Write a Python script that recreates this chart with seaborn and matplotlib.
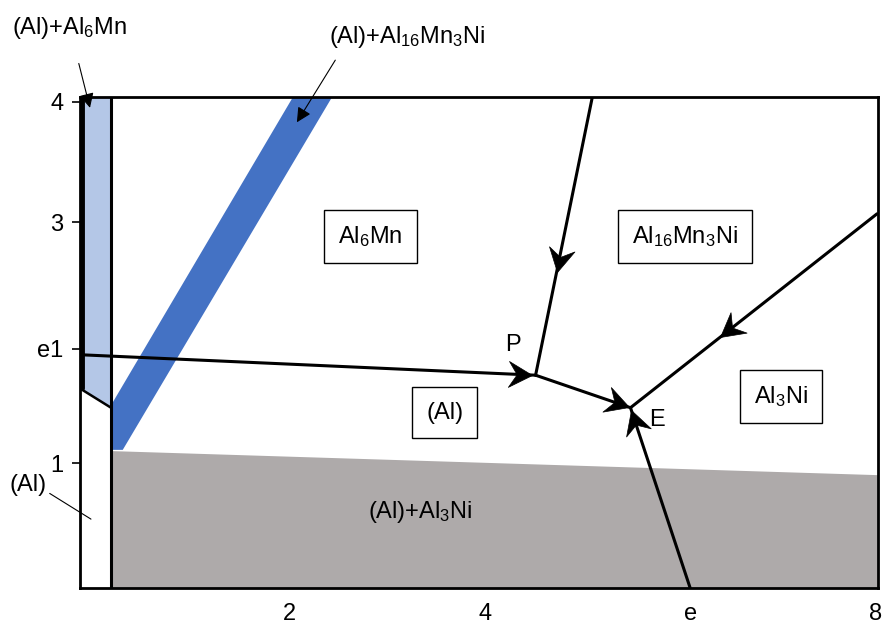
import numpy as np
import matplotlib
matplotlib.use("Agg")
import matplotlib.pyplot as plt
import seaborn as sns
from matplotlib.path import Path
from matplotlib.markers import MarkerStyle
from matplotlib.transforms import Affine2D

# ---------------- data ----------------
x_range = [-0.137, 8.02]
y_range = [-0.037, 4.04]
x_ticks = [2, 4, 6.1, 8]
x_tick_labels = ["2", "4", "e", "8"]
y_ticks = [1, 1.95, 3, 4]
y_tick_labels = ["1", "e1", "3", "4"]

# two-phase / primary fields (polygon outlines)
al6mn_field_x = [-0.137, 0.18, 0.18, -0.137]
al6mn_field_y = [4.04, 4.04, 1.46, 1.62]
al16_band_x = [0.18, 2.04, 2.44, 0.30, 0.18]
al16_band_y = [1.48, 4.04, 4.04, 1.11, 1.11]
al3ni_field_x = [0.18, 8.02, 8.02, 0.18]
al3ni_field_y = [1.10, 0.90, -0.037, -0.037]

# solvus-type boundaries near the Al corner
solvus_x = [0.18, 0.18]
solvus_y = [-0.03, 4.04]
mn_edge_x = [-0.12, -0.12]
mn_edge_y = [1.62, 4.04]
al6mn_lower_x = [-0.137, 0.18]
al6mn_lower_y = [1.62, 1.46]

# invariant points
P = (4.52, 1.73)
E = (5.49, 1.46)

# univariant valleys: (x list, y list, arrow position as fraction along line)
valley_e1_P = ([-0.137, P[0]], [1.90, P[1]], 0.993)
valley_P_E = ([P[0], E[0]], [P[1], E[1]], 0.985)
valley_top_P = ([5.10, P[0]], [4.04, P[1]], 0.63)
valley_right_E = ([8.01, E[0]], [3.07, E[1]], 0.635)
valley_e_E = ([6.1, E[0]], [-0.037, E[1]], 0.985)
valleys = [valley_e1_P, valley_P_E, valley_top_P, valley_right_E, valley_e_E]

phase_labels = ["Al$_6$Mn", "Al$_{16}$Mn$_3$Ni", "(Al)", "Al$_3$Ni"]
phase_label_x = [2.83, 6.05, 3.59, 7.03]
phase_label_y = [2.88, 2.88, 1.42, 1.55]

# ---------------- style ----------------
sns.set_theme(style="white")
plt.rcParams["font.family"] = ["Liberation Sans", "DejaVu Sans"]
plt.rcParams["mathtext.fontset"] = "custom"
plt.rcParams["mathtext.rm"] = "Liberation Sans"
plt.rcParams["mathtext.it"] = "Liberation Sans:italic"
plt.rcParams["mathtext.default"] = "regular"
plt.rcParams["text.color"] = "black"
plt.rcParams["xtick.color"] = "black"
plt.rcParams["ytick.color"] = "black"

FS = 17
LIGHT_BLUE = "#B4C7E7"
DARK_BLUE = "#4472C4"
GREY = "#AEAAAA"

fig = plt.figure(figsize=(8.84, 6.31), dpi=100)
ax = fig.add_axes([80 / 884, 43 / 631, 798 / 884, 491 / 631])
ax.set_xlim(*x_range)
ax.set_ylim(*y_range)
ax.set_autoscale_on(False)

for s in ax.spines.values():
    s.set_linewidth(2.0)
    s.set_color("black")

ax.set_xticks(x_ticks)
ax.set_xticklabels(x_tick_labels, fontsize=FS)
ax.set_yticks(y_ticks)
ax.set_yticklabels(y_tick_labels, fontsize=FS)
ax.tick_params(axis="x", length=0, pad=11, colors="black")
ax.tick_params(axis="y", left=True, length=6, width=1.2, pad=6, colors="black")

# filled phase regions
ax.fill(al6mn_field_x, al6mn_field_y, color=LIGHT_BLUE, lw=0, zorder=1)
ax.fill(al16_band_x, al16_band_y, color=DARK_BLUE, lw=0, zorder=1)
ax.fill(al3ni_field_x, al3ni_field_y, color=GREY, lw=0, zorder=1)

# boundary lines
sns.lineplot(x=solvus_x, y=solvus_y, sort=False, estimator=None, color="black", lw=2.2, ax=ax, zorder=3)
sns.lineplot(x=mn_edge_x, y=mn_edge_y, sort=False, estimator=None, color="black", lw=3.5, ax=ax, zorder=3)
sns.lineplot(x=al6mn_lower_x, y=al6mn_lower_y, sort=False, estimator=None, color="black", lw=1.8, ax=ax, zorder=3)

STEALTH = Path(
    [(0, 0), (-1, 0.55), (-0.65, 0), (-1, -0.55), (0, 0)],
    [Path.MOVETO, Path.LINETO, Path.LINETO, Path.LINETO, Path.CLOSEPOLY],
)


def arrowhead(xs, ys, frac, size=34):
    tx = xs[0] + frac * (xs[1] - xs[0])
    ty = ys[0] + frac * (ys[1] - ys[0])
    p0 = ax.transData.transform((xs[0], ys[0]))
    p1 = ax.transData.transform((xs[1], ys[1]))
    ang = np.degrees(np.arctan2(p1[1] - p0[1], p1[0] - p0[0]))
    m = MarkerStyle(STEALTH, transform=Affine2D().rotate_deg(ang))
    ax.plot([tx], [ty], marker=m, markersize=size, color="black",
            mec="black", mew=0.5, ls="none", zorder=5)


for xs, ys, frac in valleys:
    sns.lineplot(x=xs, y=ys, sort=False, estimator=None, color="black", lw=2.2, ax=ax, zorder=4)
    arrowhead(xs, ys, frac)

# phase labels with frames
for lab, lx, ly in zip(phase_labels, phase_label_x, phase_label_y):
    ax.text(lx, ly, lab, fontsize=FS, ha="center", va="center", zorder=6,
            bbox=dict(boxstyle="square,pad=0.6", fc="white", ec="black", lw=1.0))

ax.text(3.34, 0.59, "(Al)+Al$_3$Ni", fontsize=FS, ha="center", va="center", zorder=6)
ax.text(4.29, 1.98, "P", fontsize=FS, ha="center", va="center", zorder=6)
ax.text(5.76, 1.36, "E", fontsize=FS, ha="center", va="center", zorder=6)

# callouts outside the frame
ax.annotate("(Al)+Al$_6$Mn", xy=(-0.035, 3.95), xytext=(-0.24, 4.61),
            fontsize=FS, ha="center", va="center", annotation_clip=False,
            arrowprops=dict(arrowstyle="-|>", lw=0.8, color="black", mutation_scale=22,
                            shrinkA=14, shrinkB=0))
ax.annotate("(Al)+Al$_{16}$Mn$_3$Ni", xy=(2.08, 3.83), xytext=(3.21, 4.54),
            fontsize=FS, ha="center", va="center", annotation_clip=False,
            arrowprops=dict(arrowstyle="-|>", lw=0.8, color="black", mutation_scale=22,
                            shrinkA=6, shrinkB=0, relpos=(0.08, 0.0)))
ax.annotate("(Al)", xy=(-0.025, 0.535), xytext=(-0.67, 0.82),
            fontsize=FS, ha="center", va="center", annotation_clip=False,
            arrowprops=dict(arrowstyle="-", lw=0.8, color="black",
                            shrinkA=0, shrinkB=0, relpos=(1.0, 0.2)))

ax.set_xlabel("")
ax.set_ylabel("")
fig.savefig("out.png", dpi=100)
